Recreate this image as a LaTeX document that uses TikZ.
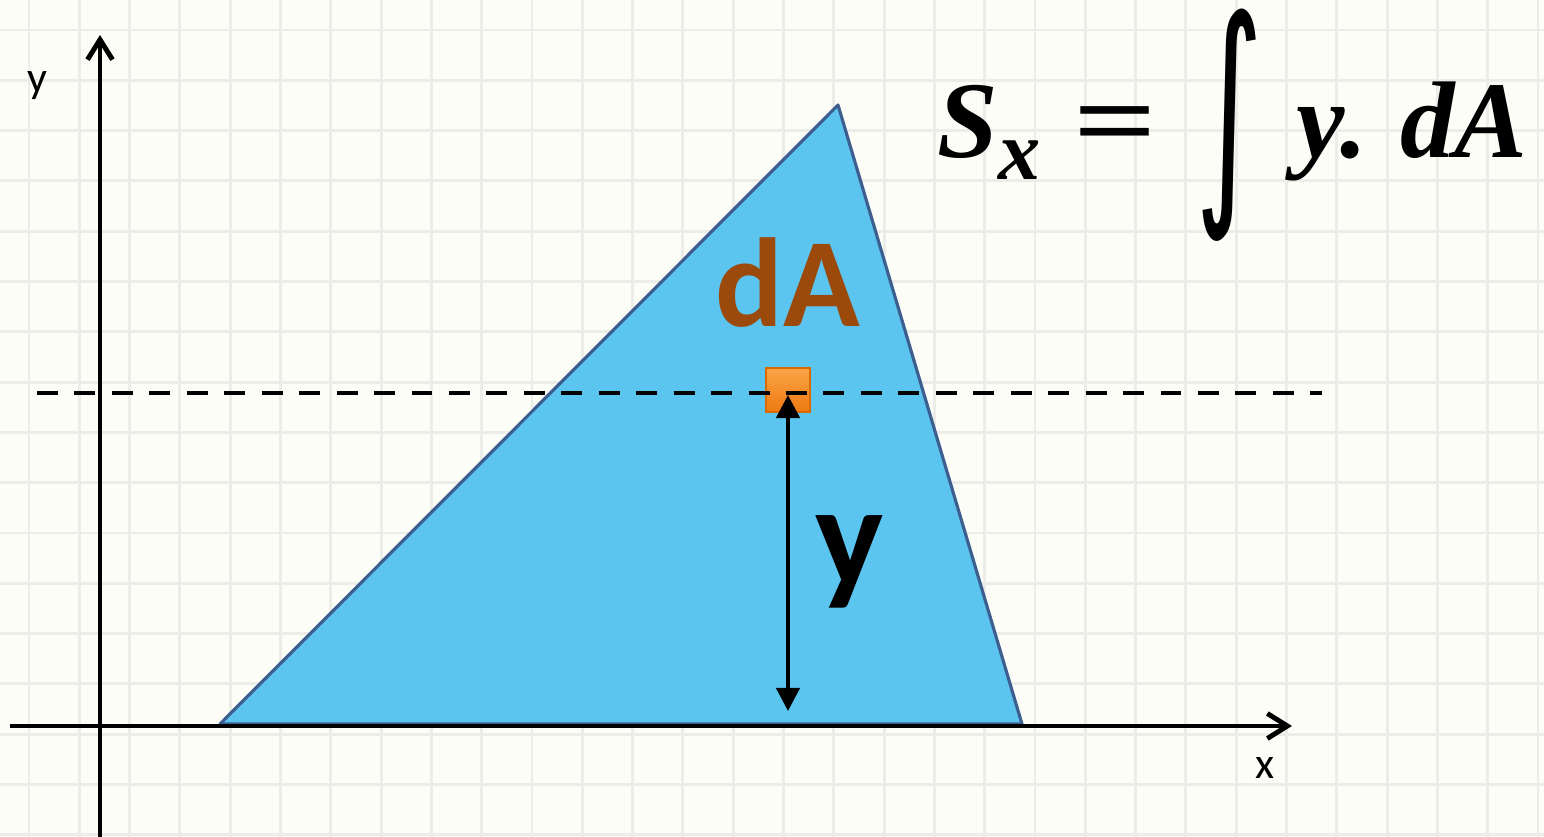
\documentclass[tikz,border=0pt]{standalone}
\usepackage{amsmath,amssymb,graphicx}
\usepackage{fontspec}
\setsansfont{Carlito}
\newfontfamily\formulafont{Liberation Serif}
\newfontfamily\intfont{DejaVu Sans}
\usetikzlibrary{arrows.meta,calc,positioning}
\definecolor{paper}{HTML}{FDFDF8}
\definecolor{gridline}{HTML}{ECECE8}
\definecolor{areafill}{HTML}{5CC5EF}
\definecolor{areaedge}{HTML}{3D5F8F}
\definecolor{brownlabel}{HTML}{9B4A0C}
\definecolor{striptop}{HTML}{FBA447}
\definecolor{stripfill}{HTML}{EE7A12}
\definecolor{stripedge}{HTML}{D86A00}

\begin{document}
\begin{tikzpicture}[x=0.01cm,y=-0.01cm,>=Stealth,
  axis/.style={line width=1.4pt,-{Straight Barb[length=0.2cm,width=0.25cm,line width=1.4pt]}},
  axislabel/.style={font=\sffamily\fontsize{12.5}{14}\selectfont},
  level/.style={line width=1.15pt,dash pattern=on 5.95pt off 4.7pt}]
  \fill[paper] (0,0) rectangle (1544,837);
  \useasboundingbox (0,0) rectangle (1544,837);
  \foreach \k in {0,...,30} \draw[gridline,line width=0.8pt] ({29+50.3*\k},0) -- ({29+50.3*\k},837);
  \foreach \k in {0,...,16} \draw[gridline,line width=0.8pt] (0,{30+50.3*\k}) -- (1544,{30+50.3*\k});
  % area
  \filldraw[fill=areafill,draw=areaedge,line width=0.9pt,line join=round] (220,724) -- (838,105) -- (1022,724) -- cycle;
  % axes
  \draw[axis] (10,726) -- (1292,726);
  \draw[axis] (100,837) -- (100,35);
  \node[axislabel] (ylabel) at (37,86) {y};
  \node[axislabel] (xlabel) at (1265,768) {x};
  % element and its distance
  \node[draw=stripedge,line width=0.6pt,top color=striptop,bottom color=stripfill,
        minimum size=0.44cm,inner sep=0pt] (strip) at (788,390) {};
  \draw[level] (37,393) -- (1322,393);
  \coordinate (base) at (788,711);
  \draw[line width=1.2pt,{Triangle[length=0.23cm,width=0.23cm]}-{Triangle[length=0.23cm,width=0.23cm]}]
    ($(strip.center)+(0,5)$) -- (base);
  \node[text=brownlabel,font=\sffamily\bfseries\fontsize{36}{38}\selectfont] (dAlabel) at (788,283) {dA};
  \node[font=\sffamily\bfseries\fontsize{41}{44}\selectfont] (ylen) at (850,562) {y};
  \node[anchor=base west,inner sep=0pt,font=\formulafont\bfseries\itshape\fontsize{31}{34}\selectfont] (formula) at (937,158)
    {S\raisebox{-0.2em}{\fontsize{24}{26}\selectfont x}\hspace{0.3em}{\upshape\scalebox{1.35}[1]{=}}\hspace{0.35em}\raisebox{-0.3em}{\scalebox{1.2}[2.2]{\intfont\mdseries\upshape ∫}}\hspace{0.3em}y.\hspace{0.3em}dA};
\end{tikzpicture}
\end{document}
